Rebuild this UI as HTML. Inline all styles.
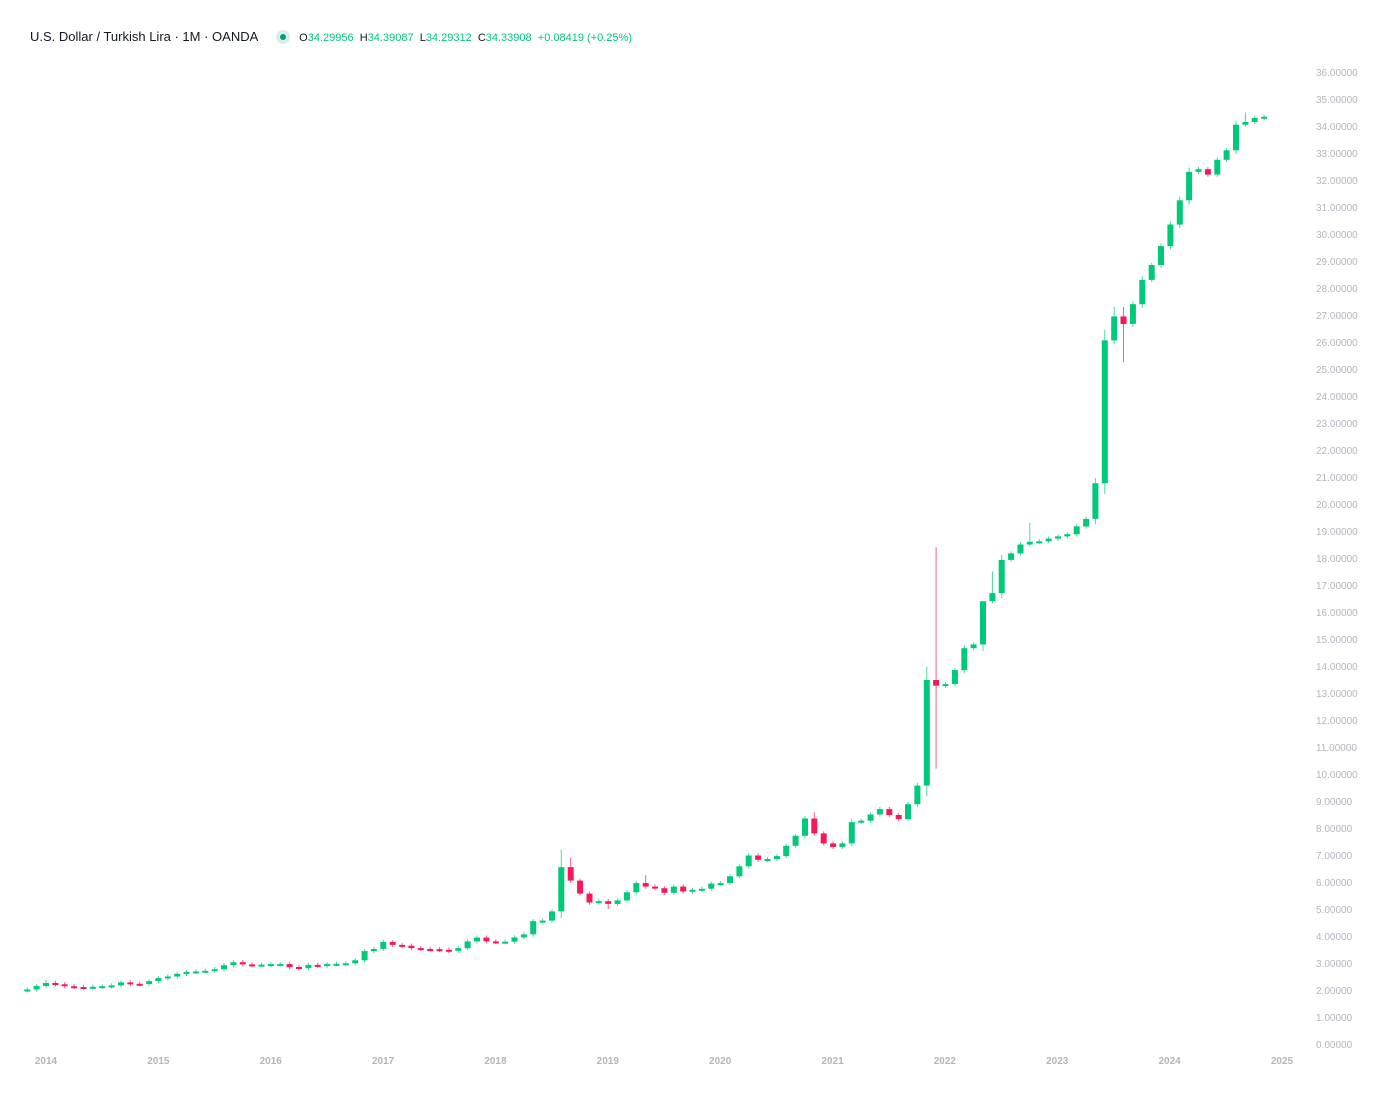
<!DOCTYPE html>
<html><head><meta charset="utf-8"><style>
html,body{margin:0;padding:0;background:#fff;width:1400px;height:1095px;overflow:hidden;font-family:"Liberation Sans",sans-serif}
.hdr{position:absolute;left:30px;top:29px;font-size:13px;color:#131722;white-space:nowrap}
.hdr .v{font-size:11px}
.hdr .g{color:#00c77a}
.dot{display:inline-block;width:14px;height:14px;border-radius:50%;background:#d6efe9;vertical-align:middle;position:relative;margin:0 9px 0 15px;top:-1px}
.dot:after{content:"";position:absolute;left:4px;top:4px;width:6px;height:6px;border-radius:50%;background:#089981}
</style></head><body>
<div class="hdr">U.S. Dollar / Turkish Lira · 1M · OANDA <span class="dot"></span><span class="v">O<span class="g">34.29956</span> &nbsp;H<span class="g">34.39087</span> &nbsp;L<span class="g">34.29312</span> &nbsp;C<span class="g">34.33908</span> &nbsp;<span class="g">+0.08419 (+0.25%)</span></span></div>
<svg id="c" width="1400" height="1095" style="position:absolute;left:0;top:0"></svg>
<script>
var C=[2.02,2.15,2.26,2.21,2.14,2.11,2.10,2.12,2.14,2.17,2.28,2.23,2.22,2.33,2.44,2.50,2.60,2.67,2.69,2.71,2.77,2.92,3.03,2.95,2.92,2.94,2.96,2.96,2.85,2.81,2.93,2.90,2.96,2.97,2.99,3.10,3.44,3.52,3.78,3.67,3.64,3.55,3.52,3.51,3.49,3.45,3.55,3.80,3.94,3.80,3.78,3.79,3.95,4.06,4.55,4.57,4.91,6.55,6.05,5.57,5.24,5.29,5.19,5.32,5.62,5.96,5.83,5.77,5.60,5.83,5.65,5.71,5.75,5.94,5.96,6.21,6.58,6.98,6.82,6.85,6.96,7.34,7.71,8.35,7.80,7.43,7.30,7.43,8.22,8.27,8.50,8.70,8.48,8.33,8.88,9.57,13.48,13.27,13.33,13.85,14.66,14.80,16.40,16.70,17.93,18.17,18.50,18.60,18.62,18.72,18.80,18.88,19.17,19.45,20.77,26.06,26.95,26.67,27.40,28.30,28.85,29.55,30.35,31.25,32.30,32.40,32.20,32.75,33.10,34.05,34.15,34.30,34.34];
var Hov={2:2.39,57:7.2,58:6.9,66:6.25,84:8.58,96:13.98,97:18.4,102:15.0,103:17.5,107:19.3,116:27.3,117:27.3,130:34.5};
var Lov={97:10.2,117:25.25,62:5.0};
function y(v){return 1044-27*v}
var s='',g='#00c97a',r='#f7185a',O=1.99;
for(var i=0;i<C.length;i++){
 var c=C[i],x=46+(i-2)*9.37,hi=Math.max(O,c),lo=Math.min(O,c),d=Math.max(0.08,(hi-lo)*0.15);
 if(d>0.4)d=0.4;
 var H=Hov[i]||hi+d,L=Lov[i]||lo-d,col=c>=O?g:r;
 s+='<line x1="'+x.toFixed(1)+'" x2="'+x.toFixed(1)+'" y1="'+y(H).toFixed(1)+'" y2="'+y(L).toFixed(1)+'" stroke="'+col+'" stroke-opacity="0.7" stroke-width="1"/>';
 var t=y(hi),b=y(lo);if(b-t<2)b=t+2;
 s+='<rect x="'+(x-3).toFixed(1)+'" y="'+t.toFixed(1)+'" width="6" height="'+(b-t).toFixed(1)+'" fill="'+col+'"/>';
 O=c;}
for(var v=0;v<=36;v++)s+='<text x="1316" y="'+(y(v)+4)+'" font-size="10" fill="#b2b5be" font-family="Liberation Sans,sans-serif">'+v.toFixed(2)+'000</text>';
for(var k=0;k<12;k++)s+='<text x="'+(46+k*112.36)+'" y="1064" text-anchor="middle" font-size="10" font-weight="bold" fill="#b2b5be" font-family="Liberation Sans,sans-serif">'+(2014+k)+'</text>';
document.getElementById('c').innerHTML=s;
</script>
</body></html>
